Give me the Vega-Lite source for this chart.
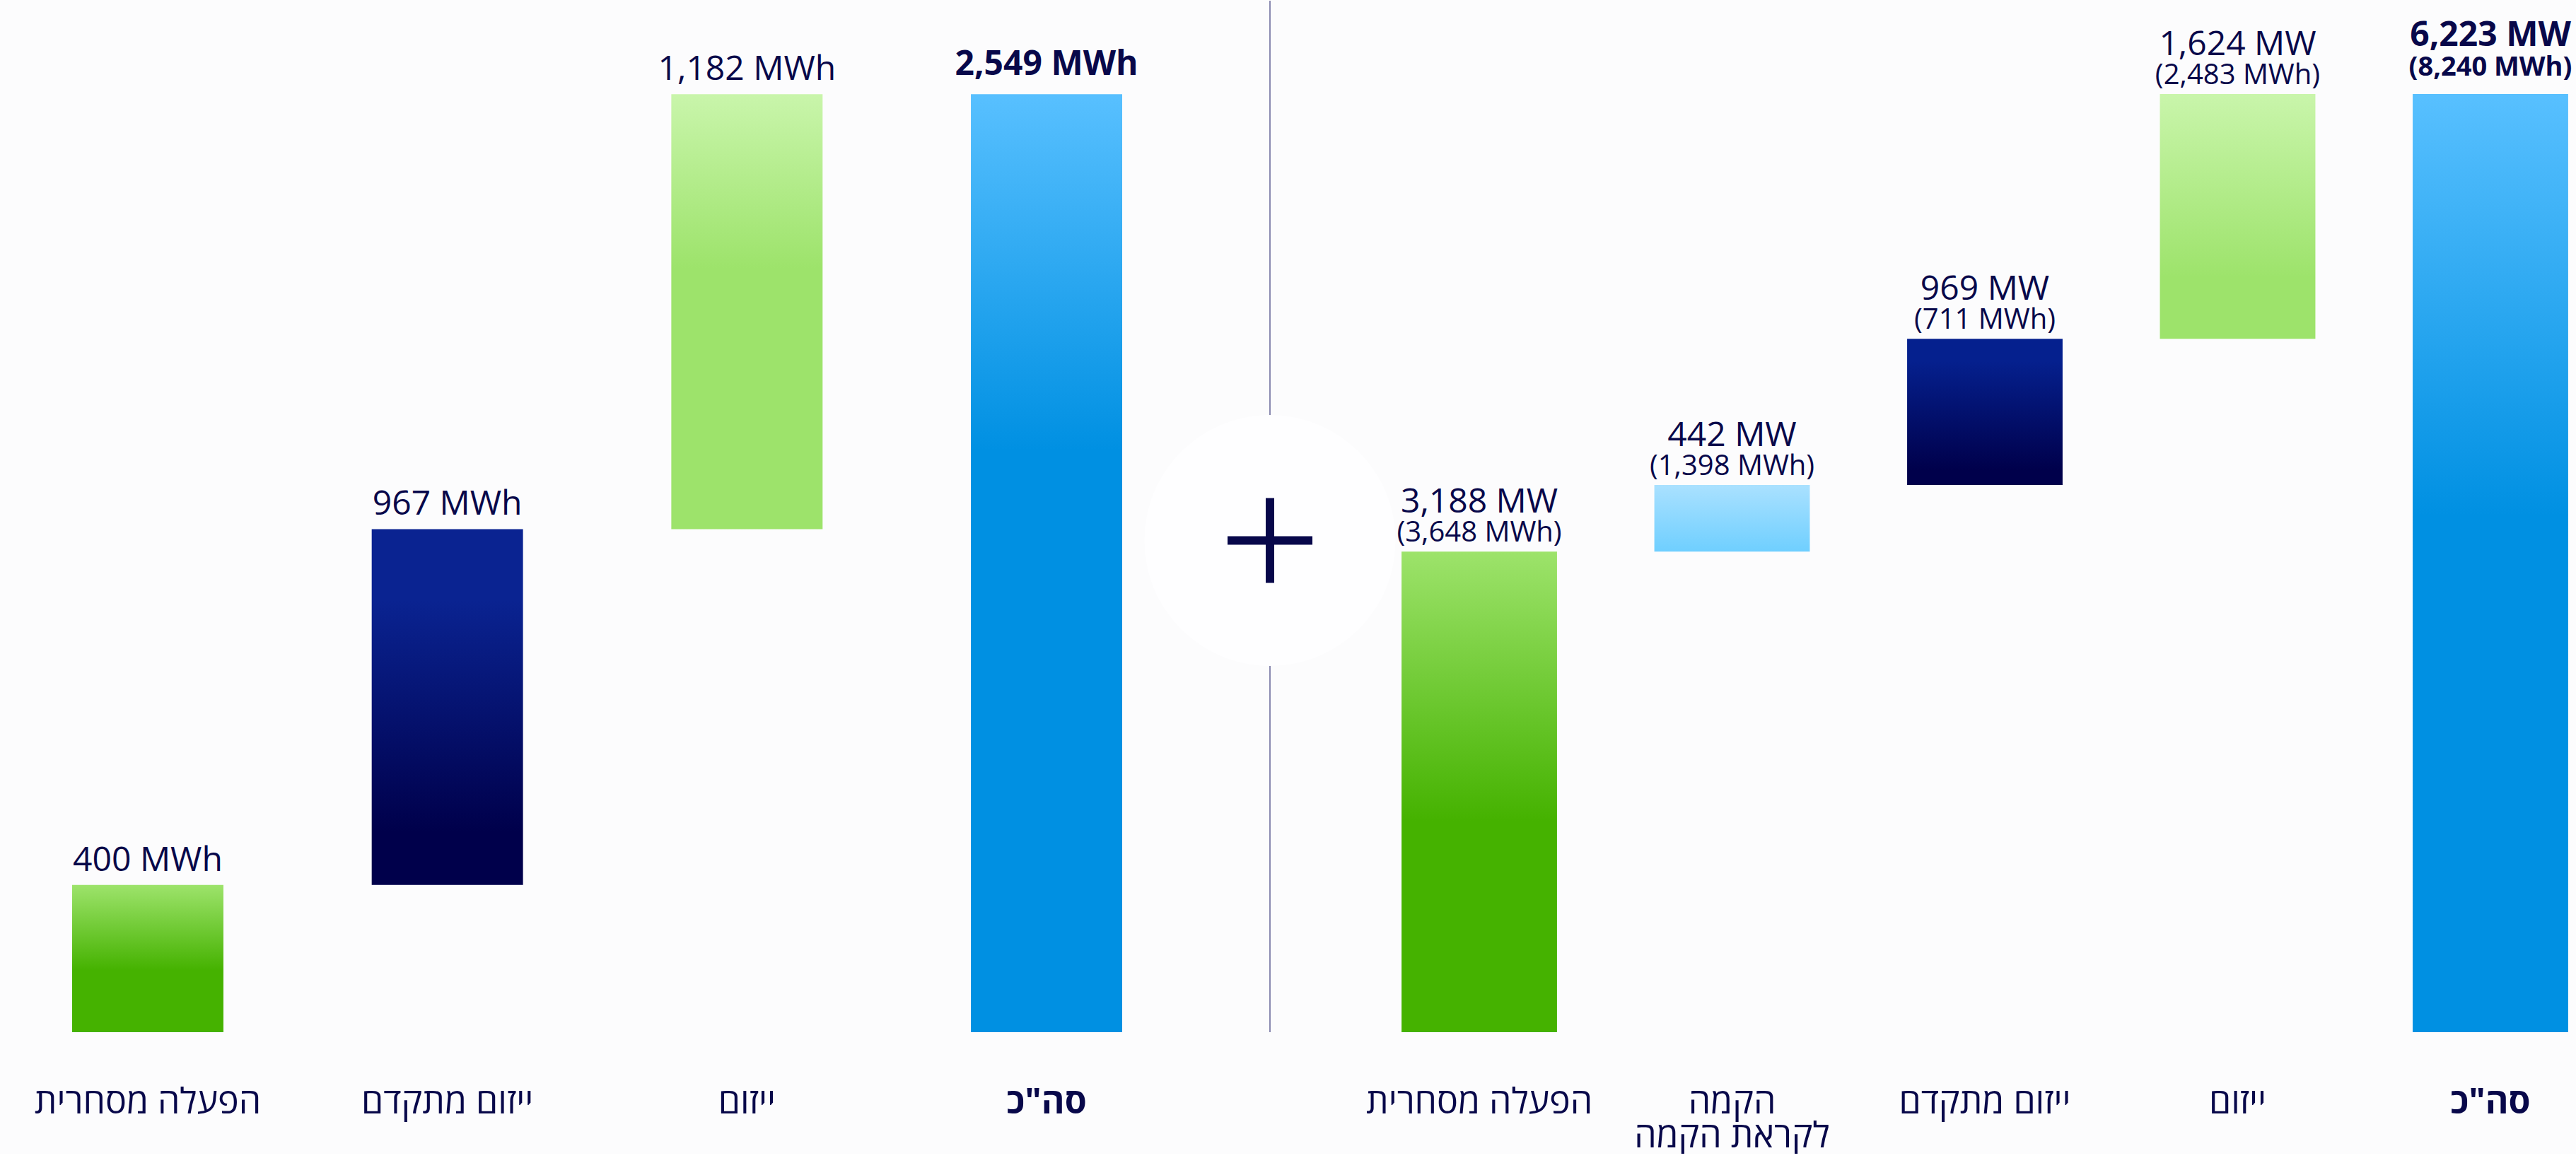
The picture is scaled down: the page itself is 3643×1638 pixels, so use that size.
{
  "$schema": "https://vega.github.io/schema/vega-lite/v6.json",
  "background": "#fcfcfd",
  "padding": 0,
  "spacing": 0,
  "bounds": "flush",
  "config": {
    "view": {"stroke": null},
    "font": "Open Sans",
    "axis": {
      "labelAngle": 0,
      "domain": false,
      "ticks": false,
      "tickSize": 0,
      "grid": false,
      "labelPadding": 74,
      "labelFontSize": 50,
      "labelFont": "Open Sans",
      "labelColor": "#08084a",
      "labelLineHeight": 48,
      "labelLimit": 0,
      "labelOverlap": false,
      "title": null
    }
  },
  "hconcat": [
    {
      "width": 1621,
      "height": 1459,
      "data": {
        "values": [
          {"cat": "הפעלה מסחרית", "start": 0, "end": 400, "label": "400 MWh", "kind": "lower"},
          {"cat": "ייזום מתקדם", "start": 400, "end": 1367, "label": "967 MWh", "kind": "navy"},
          {"cat": "ייזום", "start": 1367, "end": 2549, "label": "1,182 MWh", "kind": "upper"},
          {"cat": "סה\"כ", "start": 0, "end": 2549, "label": "2,549 MWh", "kind": "total"}
        ]
      },
      "encoding": {
        "x": {
          "field": "cat",
          "type": "nominal",
          "scale": {
            "domain": ["הפעלה מסחרית", "ייזום מתקדם", "ייזום", "סה\"כ"],
            "paddingInner": 0.495,
            "paddingOuter": 0.1605,
            "align": 0.75
          },
          "axis": {
            "labelExpr": "split(datum.label, '|')",
            "labelFontWeight": {"condition": {"test": "datum.label === 'סה\"כ'", "value": "bold"}, "value": "normal"}
          },
          "title": null
        },
        "y": {"field": "end", "type": "quantitative", "scale": {"domain": [0, 2803], "nice": false, "zero": true}, "axis": null}
      },
      "layer": [
        {
          "transform": [{"filter": "datum.kind === 'lower'"}],
          "mark": {"type": "bar", "color": {"gradient": "linear", "x1": 0, "y1": 0, "x2": 0, "y2": 1, "stops": [{"offset": 0, "color": "#9de36b"}, {"offset": 0.58, "color": "#45b200"}, {"offset": 1, "color": "#45b200"}]}},
          "encoding": {"y2": {"field": "start"}}
        },
        {
          "transform": [{"filter": "datum.kind === 'navy'"}],
          "mark": {"type": "bar", "color": {"gradient": "linear", "x1": 0, "y1": 0, "x2": 0, "y2": 1, "stops": [{"offset": 0, "color": "#0a2391"}, {"offset": 0.2, "color": "#0a2391"}, {"offset": 0.85, "color": "#00004b"}, {"offset": 1, "color": "#00004b"}]}},
          "encoding": {"y2": {"field": "start"}}
        },
        {
          "transform": [{"filter": "datum.kind === 'upper'"}],
          "mark": {"type": "bar", "color": {"gradient": "linear", "x1": 0, "y1": 0, "x2": 0, "y2": 1, "stops": [{"offset": 0, "color": "#c9f5ab"}, {"offset": 0.4, "color": "#9de36b"}, {"offset": 1, "color": "#9de36b"}]}},
          "encoding": {"y2": {"field": "start"}}
        },
        {
          "transform": [{"filter": "datum.kind === 'total'"}],
          "mark": {"type": "bar", "color": {"gradient": "linear", "x1": 0, "y1": 0, "x2": 0, "y2": 1, "stops": [{"offset": 0, "color": "#58c0ff"}, {"offset": 0.38, "color": "#0090e2"}, {"offset": 1, "color": "#0090e2"}]}},
          "encoding": {"y2": {"field": "start"}}
        },
        {
          "transform": [{"filter": "datum.kind !== 'total'"}],
          "mark": {"type": "text", "font": "Open Sans", "fontSize": 48, "color": "#08084a", "baseline": "alphabetic", "dy": -20},
          "encoding": {"text": {"field": "label"}}
        },
        {
          "transform": [{"filter": "datum.kind === 'total'"}],
          "mark": {"type": "text", "font": "Open Sans", "fontSize": 48, "fontWeight": "bold", "color": "#08084a", "baseline": "alphabetic", "dy": -27},
          "encoding": {"text": {"field": "label"}}
        }
      ]
    },
    {
      "width": 350,
      "height": 1459,
      "data": {"values": [{"item": "divider"}]},
      "encoding": {"x": {"field": "item", "type": "nominal", "axis": null}},
      "layer": [
        {"mark": {"type": "rule", "color": "#8a8ab0", "strokeWidth": 2}, "encoding": {}},
        {"mark": {"type": "point", "shape": "circle", "filled": true, "color": "#fefeff", "opacity": 1, "size": 126000}, "encoding": {"yOffset": {"value": 34}}},
        {"mark": {"type": "point", "shape": "M-1,-0.1L1,-0.1L1,0.1L-1,0.1Z M-0.1,-1L0.1,-1L0.1,1L-0.1,1Z", "filled": true, "color": "#07074a", "opacity": 1, "size": 14400}, "encoding": {"yOffset": {"value": 34}}}
      ]
    },
    {
      "width": 1672,
      "height": 1459,
      "data": {
        "values": [
          {"cat": "הפעלה מסחרית", "start": 0, "end": 3188, "mw": "3,188 MW", "mwh": "(3,648 MWh)", "kind": "lower"},
          {"cat": "הקמה|לקראת הקמה", "start": 3188, "end": 3630, "mw": "442 MW", "mwh": "(1,398 MWh)", "kind": "build"},
          {"cat": "ייזום מתקדם", "start": 3630, "end": 4599, "mw": "969 MW", "mwh": "(711 MWh)", "kind": "navy"},
          {"cat": "ייזום", "start": 4599, "end": 6223, "mw": "1,624 MW", "mwh": "(2,483 MWh)", "kind": "upper"},
          {"cat": "סה\"כ", "start": 0, "end": 6223, "mw": "6,223 MW", "mwh": "(8,240 MWh)", "kind": "total"}
        ]
      },
      "encoding": {
        "x": {
          "field": "cat",
          "type": "nominal",
          "scale": {
            "domain": ["הפעלה מסחרית", "הקמה|לקראת הקמה", "ייזום מתקדם", "ייזום", "סה\"כ"],
            "paddingInner": 0.385,
            "paddingOuter": 0.031
          },
          "axis": {
            "labelExpr": "split(datum.label, '|')",
            "labelFontWeight": {"condition": {"test": "datum.label === 'סה\"כ'", "value": "bold"}, "value": "normal"}
          },
          "title": null
        },
        "y": {"field": "end", "type": "quantitative", "scale": {"domain": [0, 6842], "nice": false, "zero": true}, "axis": null}
      },
      "layer": [
        {
          "transform": [{"filter": "datum.kind === 'lower'"}],
          "mark": {"type": "bar", "color": {"gradient": "linear", "x1": 0, "y1": 0, "x2": 0, "y2": 1, "stops": [{"offset": 0, "color": "#9de36b"}, {"offset": 0.56, "color": "#45b200"}, {"offset": 1, "color": "#45b200"}]}},
          "encoding": {"y2": {"field": "start"}}
        },
        {
          "transform": [{"filter": "datum.kind === 'build'"}],
          "mark": {"type": "bar", "color": {"gradient": "linear", "x1": 0, "y1": 0, "x2": 0, "y2": 1, "stops": [{"offset": 0, "color": "#aae1ff"}, {"offset": 1, "color": "#6fcfff"}]}},
          "encoding": {"y2": {"field": "start"}}
        },
        {
          "transform": [{"filter": "datum.kind === 'navy'"}],
          "mark": {"type": "bar", "color": {"gradient": "linear", "x1": 0, "y1": 0, "x2": 0, "y2": 1, "stops": [{"offset": 0, "color": "#05208e"}, {"offset": 0.15, "color": "#05208e"}, {"offset": 0.9, "color": "#00004b"}, {"offset": 1, "color": "#00004b"}]}},
          "encoding": {"y2": {"field": "start"}}
        },
        {
          "transform": [{"filter": "datum.kind === 'upper'"}],
          "mark": {"type": "bar", "color": {"gradient": "linear", "x1": 0, "y1": 0, "x2": 0, "y2": 1, "stops": [{"offset": 0, "color": "#c9f5ab"}, {"offset": 0.75, "color": "#9de36b"}, {"offset": 1, "color": "#9de36b"}]}},
          "encoding": {"y2": {"field": "start"}}
        },
        {
          "transform": [{"filter": "datum.kind === 'total'"}],
          "mark": {"type": "bar", "color": {"gradient": "linear", "x1": 0, "y1": 0, "x2": 0, "y2": 1, "stops": [{"offset": 0, "color": "#58c0ff"}, {"offset": 0.45, "color": "#0090e2"}, {"offset": 1, "color": "#0090e2"}]}},
          "encoding": {"y2": {"field": "start"}}
        },
        {
          "transform": [{"filter": "datum.kind !== 'total'"}],
          "mark": {"type": "text", "font": "Open Sans", "fontSize": 48, "color": "#08084a", "baseline": "alphabetic", "dy": -55},
          "encoding": {"text": {"field": "mw"}}
        },
        {
          "transform": [{"filter": "datum.kind !== 'total'"}],
          "mark": {"type": "text", "font": "Open Sans", "fontSize": 40, "color": "#08084a", "baseline": "alphabetic", "dy": -14},
          "encoding": {"text": {"field": "mwh"}}
        },
        {
          "transform": [{"filter": "datum.kind === 'total'"}],
          "mark": {"type": "text", "font": "Open Sans", "fontSize": 48, "fontWeight": "bold", "color": "#08084a", "baseline": "alphabetic", "dy": -68},
          "encoding": {"text": {"field": "mw"}}
        },
        {
          "transform": [{"filter": "datum.kind === 'total'"}],
          "mark": {"type": "text", "font": "Open Sans", "fontSize": 38, "fontWeight": "bold", "color": "#08084a", "baseline": "alphabetic", "dy": -26},
          "encoding": {"text": {"field": "mwh"}}
        }
      ]
    }
  ]
}
